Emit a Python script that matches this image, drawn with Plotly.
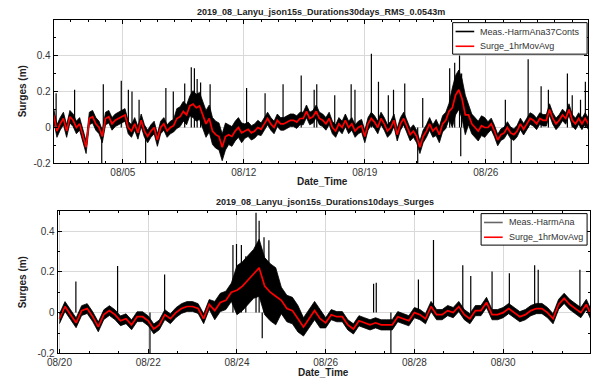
import numpy as np
import pandas as pd
import plotly.graph_objects as go

# ---------------- data ----------------
top_start = "2019-08-01 00:00"
top_step = "270min"
top_red = [0.07, -0.02, 0.02, 0.05, -0.02, 0.06, 0.04, 0.0, 0.02, -0.05, -0.11,
           0.05, 0.06, 0.02, 0.0, -0.05, 0.05, 0.06, 0.02, 0.04, 0.05, 0.06, 0.07, 0.0,
           -0.02, 0.02, -0.03, 0.04, -0.02, -0.05, -0.02, 0.0, -0.07, 0.0, 0.02, -0.02,
           0.0, 0.01, 0.05, 0.06, 0.09, 0.07, 0.12, 0.13, 0.11, 0.12, 0.07, 0.02, 0.05,
           -0.02, -0.04, -0.05, -0.11, -0.05, -0.04, -0.05, -0.02, 0.0, -0.03, -0.02,
           -0.01, -0.03, -0.02, 0.0, -0.01, 0.02, 0.05, 0.02, 0.0, 0.04, 0.02, 0.02,
           0.03, 0.04, 0.04, 0.03, 0.05, 0.05, 0.09, 0.05, 0.06, 0.09, 0.05,
           0.04, 0.02, 0.05, 0.0, -0.02, 0.02, 0.0, 0.04, 0.0, 0.02,
           -0.02, 0.0, 0.01, -0.05, 0.02, 0.05, 0.03, 0.0, 0.05, 0.02,
           -0.02, 0.0, 0.04, -0.04, 0.02, 0.05, 0.0, -0.04, -0.02, -0.05,
           -0.11, -0.05, -0.02, 0.02, -0.02, 0.0, -0.04, 0.02, 0.04, 0.09, 0.11, 0.18, 0.21,
           0.16, 0.07, 0.07, 0.02, 0.0, -0.02, 0.01, 0.0, 0.0, 0.02,
           -0.02, -0.07, -0.04, -0.03, 0.0, -0.03, -0.04, -0.02, 0.02, -0.01,
           0.02, 0.05, 0.04, 0.02, 0.05, 0.04, 0.04, 0.10, 0.05, 0.02,
           0.04, 0.07, 0.05, 0.10, 0.04, 0.02, 0.05, 0.02, 0.05, 0.02, -0.09]
# half-width of the dense measured band, one value per day
top_spread = [0.035] * 7 + [0.055, 0.075, 0.075, 0.055, 0.04] + [0.035] * 10 + \
             [0.045, 0.11, 0.055] + [0.032] * 6
# isolated spikes: (days after start, value)
top_spike_day = [0.14, 1.21, 2.87, 3.91, 4.32, 4.53, 4.94, 6.49, 6.92, 7.58, 7.96, 8.14,
                 8.3, 8.5, 9.05, 11.16, 12.23, 13.27, 14.32, 15.07, 15.22, 16.26, 17.21,
                 17.43, 18.38, 18.79, 19.36, 19.66, 20.31, 21.35, 22.91, 23.2, 23.48, 23.6,
                 26.13, 27.45, 28.2, 28.62, 29.72, 30.0, 30.48, 30.76,
                 2.78, 5.32, 21.06, 23.55, 26.47]
top_spike_val = [0.19, 0.21, 0.24, 0.26, 0.21, 0.20, 0.155, 0.22, 0.20, 0.245, 0.335, 0.33,
                 0.27, 0.25, 0.24, 0.22, 0.19, 0.24, 0.29, 0.21, 0.24, 0.18, 0.24,
                 0.21, 0.41, 0.255, 0.18, 0.21, 0.245, 0.164, 0.33, 0.36, 0.40, 0.30,
                 0.155, 0.38, 0.23, 0.21, 0.30, 0.18, 0.155, 0.255,
                 -0.2, -0.2, -0.2, -0.16, -0.2]

bot_start = "2019-08-20 00:00"
bot_step = "3h"
bot_red = [-0.03, 0.03, -0.01, -0.05, 0.01, 0.02, -0.02, -0.07, -0.01, 0.01, -0.01, -0.04,
           -0.03, -0.06, -0.02, -0.02, -0.04, -0.08, -0.06, -0.01, -0.03, 0.0, 0.02, 0.03,
           0.03, 0.02, -0.03, 0.04, 0.01, 0.05, 0.06, 0.10, 0.11, 0.13, 0.16, 0.19, 0.22,
           0.13, 0.10, 0.08, 0.06, 0.02, 0.01, -0.03, -0.07, -0.03, 0.01, -0.03, -0.05,
           -0.01, -0.02, -0.02, -0.06, -0.08, -0.04, -0.05, -0.06, -0.05, -0.06, -0.06,
           -0.06, -0.02, -0.03, -0.04, 0.0, -0.01, -0.03, 0.03, -0.01, -0.01, 0.01, 0.0,
           0.03, -0.01, -0.03, 0.01, 0.01, 0.05, -0.01, -0.01, 0.0, 0.02, 0.0, -0.02,
           -0.01, 0.01, 0.02, 0.02, 0.0, -0.03, 0.04, 0.07, 0.04, 0.02, 0.0, 0.04, -0.02]
# half-width of the dense measured band, one value per half day
bot_spread = [0.024] * 7 + [0.045, 0.12, 0.14, 0.065, 0.045] + [0.025] * 12
bot_spike_day = [0.37, 1.31, 2.37, 3.91, 3.99, 4.1, 4.2, 4.43, 4.5, 4.61, 4.72, 7.08, 7.14,
                 8.09, 8.43, 9.09, 9.27, 9.75, 10.14, 10.71, 10.79, 11.73,
                 2.04, 4.57, 7.47]
bot_spike_val = [0.153, 0.229, 0.187, 0.332, 0.337, 0.332, 0.277, 0.49, 0.45, 0.37, 0.355,
                 0.142, 0.147, 0.163, 0.356, 0.232, 0.179, 0.202, 0.193, 0.232, 0.21, 0.21,
                 -0.198, -0.126, -0.198]

top_title = "2019_08_Lanyu_json15s_Durations30days_RMS_0.0543m"
bot_title = "2019_08_Lanyu_json15s_Durations10days_Surges"
top_names = ["Meas.-HarmAna37Conts", "Surge_1hrMovAvg"]
bot_names = ["Meas.-HarmAna", "Surge_1hrMovAvg"]
y_ticks = [-0.2, 0, 0.2, 0.4]
y_ticktext = ["-0.2", "0", "0.2", "0.4"]

# ---------------- figure ----------------
W, H = 592, 385
FONT = "Arial"
fig = go.Figure()


def add_panel(start, step, red, spread, per_day, sday, sval, names, xa, ya):
    t = pd.date_range(start, periods=len(red), freq=step)
    hours = (t - pd.Timestamp(start)) / pd.Timedelta(hours=1)
    idx = np.minimum((np.asarray(hours) / (24.0 / per_day)).astype(int), len(spread) - 1)
    red = np.array(red)
    sp = np.array(spread)[idx]
    upper = red + sp
    lower = red - sp
    fig.add_trace(go.Scatter(x=t, y=upper, mode="lines", line=dict(color="black", width=0.8),
                             xaxis=xa, yaxis=ya, showlegend=False, hoverinfo="skip"))
    fig.add_trace(go.Scatter(x=t, y=lower, mode="lines", line=dict(color="black", width=0.8),
                             fill="tonexty", fillcolor="black", name=names[0],
                             xaxis=xa, yaxis=ya, showlegend=False, hoverinfo="skip"))
    xs, ys = [], []
    t0 = pd.Timestamp(start)
    for d, v in zip(sday, sval):
        tt = t0 + pd.Timedelta(days=d)
        xs += [tt, tt, None]
        ys += [0, v, None]
    fig.add_trace(go.Scatter(x=xs, y=ys, mode="lines", line=dict(color="black", width=1.2),
                             xaxis=xa, yaxis=ya, showlegend=False, hoverinfo="skip"))
    fig.add_trace(go.Scatter(x=t, y=red, mode="lines", name=names[1],
                             line=dict(color="#ff0000", width=1.7),
                             xaxis=xa, yaxis=ya, showlegend=False))


add_panel(top_start, top_step, top_red, top_spread, 1, top_spike_day, top_spike_val,
          top_names, "x", "y")
add_panel(bot_start, bot_step, bot_red, bot_spread, 2, bot_spike_day, bot_spike_val,
          bot_names, "x2", "y2")

axis_common = dict(showline=True, linecolor="black", linewidth=1, mirror="ticks",
                   ticks="inside", ticklen=4, tickcolor="black", showgrid=True,
                   gridcolor="#d9d9d9", gridwidth=1, zeroline=False,
                   tickfont=dict(family=FONT, size=10, color="#333333"))

day_ms = 86400000
fig.update_layout(
    width=W, height=H, autosize=False, showlegend=False,
    margin=dict(l=0, r=0, t=0, b=0),
    paper_bgcolor="white", plot_bgcolor="white",
    font=dict(family=FONT, size=10, color="#333333"),
    xaxis=dict(domain=[43.5 / W, 588 / W], anchor="y", type="date",
               range=["2019-08-01 00:00", "2019-08-31 22:00"],
               tick0="2019-08-05", dtick=7 * day_ms, tickformat="%m/%d",
               minor=dict(tick0="2019-08-01", dtick=day_ms, ticks="inside", ticklen=2,
                          tickcolor="black", showgrid=False),
               **axis_common),
    yaxis=dict(domain=[1 - 166 / H, 1 - 20 / H], anchor="x", range=[-0.2, 0.6],
               tickmode="array", tickvals=y_ticks, ticktext=y_ticktext,
               minor=dict(tickmode="array", tickvals=[-0.1, 0.1, 0.3, 0.5], ticks="inside",
                          ticklen=2, tickcolor="black", showgrid=False),
               **axis_common),
    xaxis2=dict(domain=[47.5 / W, 590 / W], anchor="y2", type="date",
                range=["2019-08-19 23:00", "2019-08-31 23:00"],
                tick0="2019-08-20", dtick=2 * day_ms, tickformat="%m/%d",
                minor=dict(tick0="2019-08-20", dtick=16 * 3600000, ticks="inside",
                           ticklen=2, tickcolor="black", showgrid=False),
                **axis_common),
    yaxis2=dict(domain=[1 - 359 / H, 1 - 214 / H], anchor="x2", range=[-0.2, 0.5],
                tickmode="array", tickvals=y_ticks, ticktext=y_ticktext,
                minor=dict(tickmode="array", tickvals=[-0.1, 0.1, 0.3], ticks="inside",
                           ticklen=2, tickcolor="black", showgrid=False),
                **axis_common),
)


def px(x):
    return x / W


def py(y):
    return 1 - y / H


def ann(text, x, y, size, angle=0, xanchor="center", color="#222222"):
    fig.add_annotation(text=text, x=px(x), y=py(y), xref="paper", yref="paper",
                       showarrow=False, textangle=angle, xanchor=xanchor, yanchor="middle",
                       font=dict(family=FONT, size=size, color=color))


def legend_box(x0, y0, x1, y1, entries):
    # entries: (name, line colour, y of row, line x0, line x1, text x)
    fig.add_shape(type="rect", xref="paper", yref="paper", x0=px(x0), x1=px(x1),
                  y0=py(y1), y1=py(y0), line=dict(color="black", width=1),
                  fillcolor="white", layer="above")
    for name, col, yy, lx0, lx1, tx in entries:
        fig.add_shape(type="line", xref="paper", yref="paper", x0=px(lx0), x1=px(lx1),
                      y0=py(yy), y1=py(yy), line=dict(color=col, width=1.6), layer="above")
        ann(name, tx, yy, 9, xanchor="left", color="#333333")


legend_box(450, 23, 587, 55, [(top_names[0], "black", 32, 453, 472, 476),
                              (top_names[1], "#ff0000", 47, 453, 472, 476)])
legend_box(479, 217, 587, 249, [(bot_names[0], "#666666", 226, 482, 501, 505),
                                (bot_names[1], "#ff0000", 241, 482, 501, 505)])

ann("<b>" + top_title + "</b>", 316, 12, 9)
ann("<b>" + bot_title + "</b>", 320, 205, 9)
ann("<b>Date_Time</b>", 317, 184, 10)
ann("<b>Date_Time</b>", 318, 378, 10)
ann("<b>Surges (m)</b>", 12, 93, 10, -90)
ann("<b>Surges (m)</b>", 12, 287, 10, -90)

fig.write_html("out.html", config={"displayModeBar": False},
               post_script="document.body.style.margin='0px';"
                           "document.body.style.overflow='hidden';")
